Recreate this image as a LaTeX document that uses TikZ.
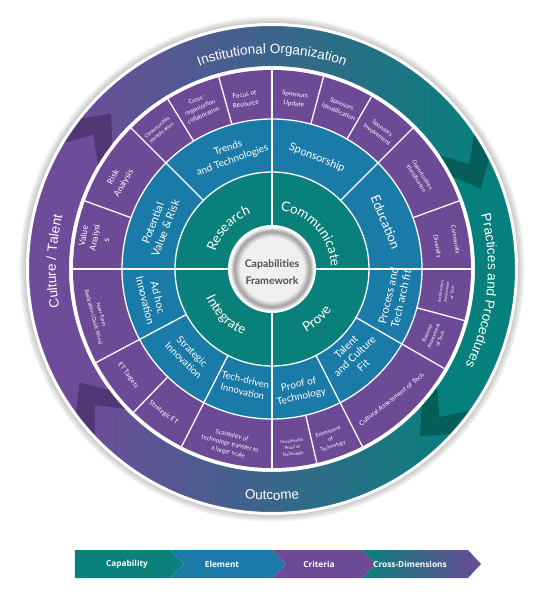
\documentclass[tikz,border=0pt]{standalone}
\usepackage{fontspec}
\setmainfont{Lato}
\newfontfamily\outerfont{Liberation Sans}
\newfontfamily\legendfont{Open Sans}
\usetikzlibrary{decorations.text}
\definecolor{capteal}{RGB}{10,128,122}
\definecolor{elblue}{RGB}{27,123,168}
\definecolor{crpurple}{RGB}{108,74,150}
\definecolor{outpurple}{RGB}{110,76,153}
\definecolor{outteal}{RGB}{6,128,124}
\definecolor{outblue}{RGB}{30,125,172}
\definecolor{darkpurple}{RGB}{80,54,114}
\definecolor{darkteal}{RGB}{6,94,90}
\definecolor{ctrgray}{RGB}{80,80,80}
\definecolor{ctrA}{RGB}{240,240,240}
\definecolor{ctrB}{RGB}{160,160,160}
\definecolor{ctrC}{RGB}{205,205,205}
\pgfdeclareradialshading{ctrshade}{\pgfpoint{0bp}{0bp}}{color(0bp)=(ctrA); color(19bp)=(ctrA); color(22.5bp)=(ctrB); color(23.8bp)=(ctrC); color(25bp)=(white); color(50bp)=(white)}
\newcommand\capfmt{\fontsize{13.5}{16}\selectfont}
\newcommand\outfmt{\outerfont\fontsize{13.5}{16}\selectfont}
\newcommand\outerseg[3]{%
  \path[#1] (#2:244) arc[start angle=#2, end angle=#3, radius=244] -- ({#3-6}:223.5) -- (#3:203)
    arc[start angle=#3, end angle=#2, radius=203] -- ({#2-6}:223.5) -- cycle;}
\newcommand\darkband[2]{%
  \fill[#1] ({#2+4}:203) -- ({#2-2}:223.5) -- ({#2+4}:244) arc[start angle={#2+4}, end angle={#2-3}, radius=244]
    -- ({#2-9}:223.5) -- ({#2-3}:203) arc[start angle={#2-3}, end angle={#2+4}, radius=203] -- cycle;}
\newcommand\critnode[7]{\node[crit, rotate=#4, font=\fontsize{#5}{#6}\selectfont] (#1) at (#2:#3) {#7};}
\newcommand\elemnode[7]{\node[elem, rotate=#4, font=\fontsize{#5}{#6}\selectfont] (#1) at (#2:#3) {#7};}
\tikzset{
  divider/.style={white, line width=1.3pt},
  crit/.style={text=white, align=center, inner sep=0pt},
  elem/.style={text=white, align=center, inner sep=0pt},
  legend/.style={text=white, font=\legendfont\bfseries\fontsize{8.3}{10}\selectfont, inner sep=0pt},
  curved/.style={decorate, decoration={text along path, text align=center, text color=white, text={#1}}}
}
\begin{document}
\begin{tikzpicture}[x=1pt, y=1pt]
\useasboundingbox (-272,-329) rectangle (274,269);
% shadow
\foreach \i in {1,...,8} \fill[black, opacity=0.035] (0,0) circle[radius=244+\i*1.1];
\fill[white] (0,0) circle[radius=246];
% outer ring
\outerseg{left color=outpurple, middle color=outblue, right color=outteal}{145}{30}
\outerseg{fill=outteal}{30}{-39.5}
\outerseg{left color=outpurple, middle color=outblue, right color=outteal}{-39.5}{-140.5}
\outerseg{fill=outpurple}{219.5}{145}
\darkband{darkpurple}{145}
\darkband{darkteal}{30}
\darkband{darkteal}{-39.5}
\darkband{darkpurple}{219.5}
\draw[white, line width=2pt] (0,0) circle[radius=244];
% rings
\fill[crpurple] (0,0) circle[radius=199];
\fill[elblue] (0,0) circle[radius=150];
\fill[capteal] (0,0) circle[radius=97];
\draw[divider] (0,0) circle[radius=150];
\draw[divider] (0,0) circle[radius=97];
\foreach \a in {0,90,180,270} \draw[divider] (\a:43) -- (\a:199);
\foreach \a in {135,45,-30,-63,243,208} \draw[divider] (\a:97) -- (\a:199);
\foreach \a in {121.5,105.5,160,75,60,20,-15,-77,226} \draw[divider] (\a:150) -- (\a:199);
% center
\fill[white] (0,0) circle[radius=44];
\shade[shading=ctrshade] (0,0) circle[radius=42];
\node[font=\bfseries\fontsize{10.5}{17}\selectfont, text=ctrgray, align=center, inner sep=0pt] (ctr) at (0,-3) {Capabilities\\Framework};
% capability labels
\path[curved={|\capfmt|Research}] (192:59) arc[start angle=192, end angle=82, radius=59];
\path[curved={|\capfmt|Communicate}] (97:59) arc[start angle=97, end angle=-13, radius=59];
\path[curved={|\capfmt|Integrate}] (170:72) arc[start angle=170, end angle=280, radius=72];
\path[curved={|\capfmt|Prove}] (257:72) arc[start angle=257, end angle=367, radius=72];
% outer labels
\path[curved={|\outfmt|Institutional Organization}] (180:215.5) arc[start angle=180, end angle=0, radius=215.5];
\path[curved={|\outfmt|Practices and Procedures}] (84:216) arc[start angle=84, end angle=-96, radius=216];
\path[curved={|\outfmt|Outcome}] (180:231) arc[start angle=180, end angle=360, radius=231];
\path[curved={|\outfmt|Culture / Talent}] (268:216) arc[start angle=268, end angle=88, radius=216];
% element labels
\elemnode{trends}{110}{122}{20}{10}{13}{Trends\\and Technologies}
\elemnode{spons}{68}{120}{-22}{11}{13}{Sponsorship}
\elemnode{edu}{22.5}{123}{-67.5}{13}{15}{Education}
\elemnode{proc}{-13}{126}{77}{11}{13}{Process and\\Tech arch fit}
\elemnode{talent}{-46.5}{120}{43.5}{10.5}{12.5}{Talent\\and Culture\\Fit}
\elemnode{proof}{-77}{125}{13}{10}{12.5}{Proof of\\Technology}
\elemnode{techdr}{256.5}{120}{-13.5}{9.5}{12}{Tech-driven\\Innovation}
\elemnode{strinn}{226}{121}{-44}{10}{12.5}{Strategic\\Innovation}
\elemnode{adhoc}{194}{124}{-76}{10.5}{13}{Ad hoc\\Innovation}
\elemnode{pot}{159}{121}{69}{11}{13.5}{Potential\\Value \& Risk}
% criteria labels
\critnode{focus}{99}{172}{9}{6.5}{9.5}{Focus of\\Resource}
\critnode{cross}{114}{177}{24}{6}{8.5}{Cross-\\organization\\collaboration}
\critnode{oppL}{129}{179}{39}{5}{7}{Opportunities\\Identification}
\critnode{risk}{150}{177}{60}{8.5}{12}{Risk\\Analysis}
\critnode{value}{170}{180}{80}{8.5}{11.5}{Value\\Analysi\\s}
\critnode{near}{195}{181}{-75}{5.3}{8}{Near-Term\\Realization (Quick Wins)}
\critnode{ett}{216.5}{179}{-53.5}{6.5}{8}{ET Targets}
\critnode{strat}{233}{180}{-37}{6.5}{8}{Strategic ET}
\critnode{scal}{256.5}{180}{-13.5}{6}{8.5}{Scalability of\\technology transfer to\\a larger scale}
\critnode{incr}{-83.5}{180}{6.5}{4.3}{6.5}{Incremental\\Proof of\\Technology}
\critnode{exper}{-71}{180}{19}{5.2}{7.5}{Experiment\\of\\Technology}
\critnode{cult}{-47.5}{177}{38}{6.5}{8}{Cultural Assessment of Tech}
\critnode{bus}{-22.5}{175}{67.5}{5}{7}{Business\\Assessment\\of Tech}
\critnode{arch}{-7.5}{176}{82.5}{4}{5.8}{Architecture\\Assessment\\of Tech}
\node[crit, align=right, rotate=-80, font=\fontsize{5.8}{19}\selectfont] (comm) at (9:176) {Community\\Diversity};
\critnode{oppR}{32}{174}{-58}{5.5}{7}{Opportunities\\Identification}
\critnode{sinv}{52}{175}{-38}{6}{8.5}{Sponsors\\Involvement}
\critnode{sident}{67}{175}{-23}{6.2}{8.5}{Sponsors\\Identification}
\critnode{supd}{82.5}{171}{-7.5}{6.5}{9.5}{Sponsors\\Update}
% legend
\fill[capteal] (-197,-281) -- (-102,-281) -- (-88,-295) -- (-102,-309) -- (-197,-309) -- cycle;
\fill[elblue] (-102,-281) -- (0,-281) -- (14,-295) -- (0,-309) -- (-102,-309) -- (-88,-295) -- cycle;
\fill[crpurple] (0,-281) -- (90,-281) -- (104,-295) -- (90,-309) -- (0,-309) -- (14,-295) -- cycle;
\shade[left color=capteal, middle color=elblue, right color=crpurple] (90,-281) -- (196,-281) -- (209,-295) -- (196,-309) -- (90,-309) -- (104,-295) -- cycle;
\node[legend] (lcap) at (-145,-295) {Capability};
\node[legend] (lel) at (-50,-295) {Element};
\node[legend] (lcr) at (47,-295) {Criteria};
\node[legend] (lcd) at (138,-295) {Cross-Dimensions};
\end{tikzpicture}
\end{document}
